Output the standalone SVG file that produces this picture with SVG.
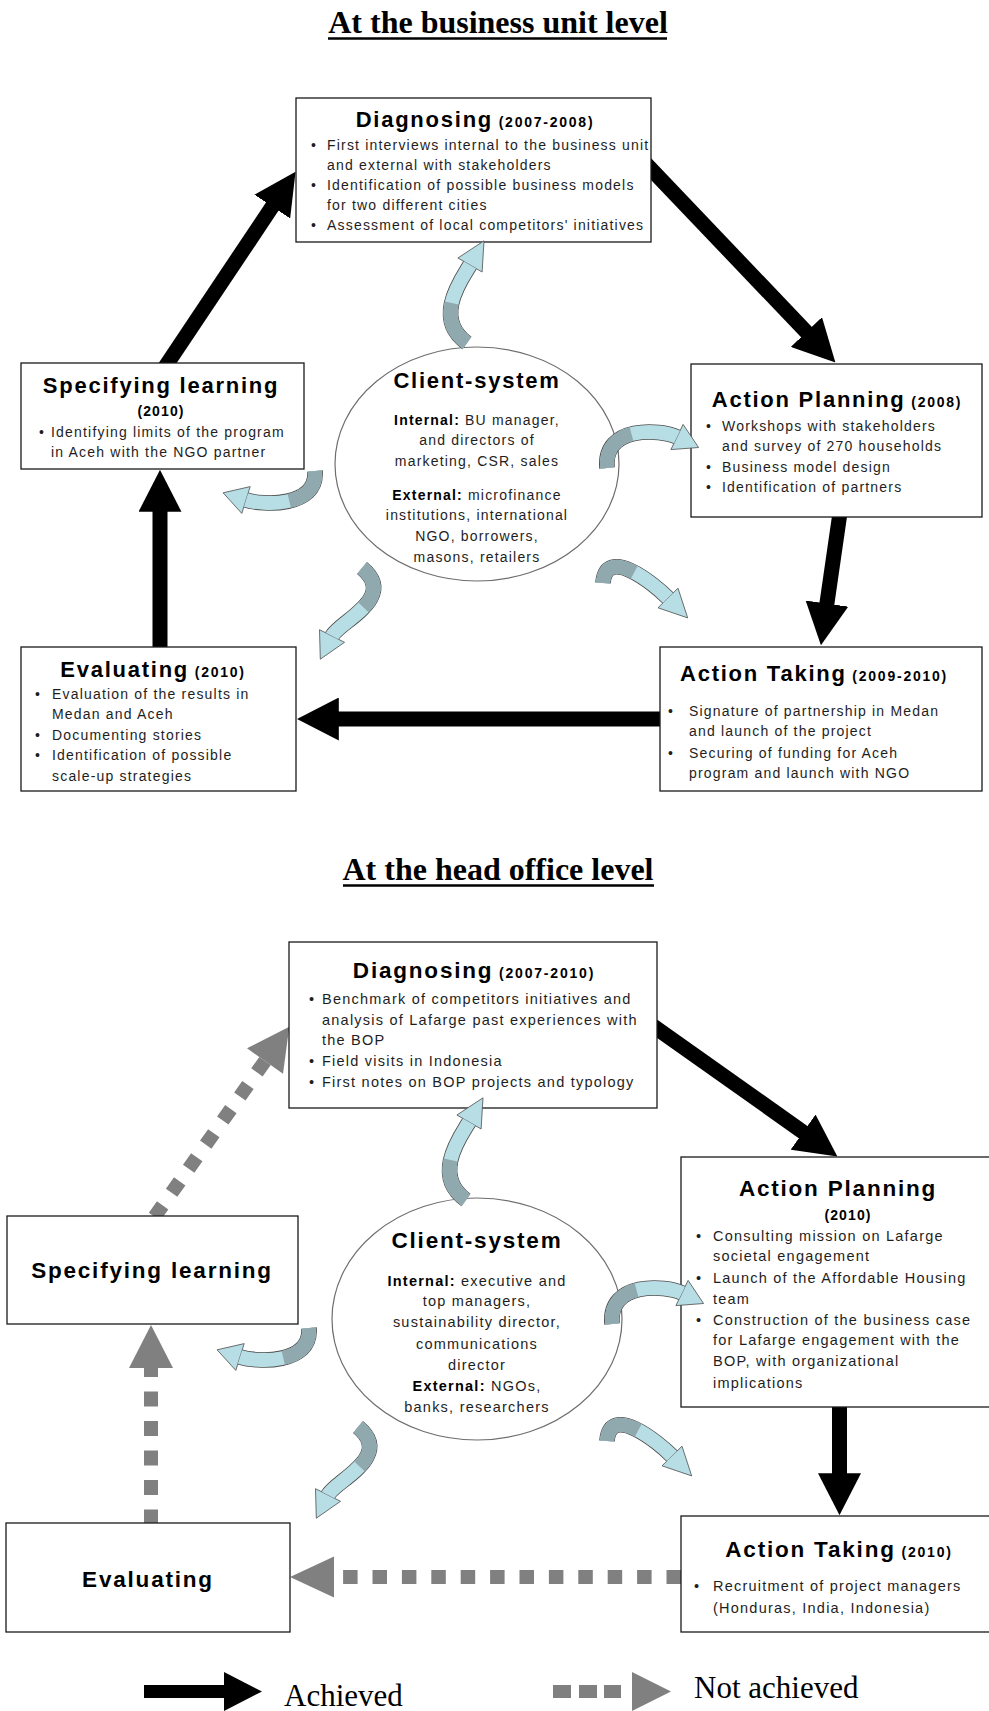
<svg xmlns="http://www.w3.org/2000/svg" width="989" height="1711" viewBox="0 0 989 1711">
<style>
.box{fill:#fff;stroke:#1a1a1a;stroke-width:1.3}
.ell{fill:#fff;stroke:#6e6e6e;stroke-width:1.2}
.t{font-family:"Liberation Sans",Arial,sans-serif;font-weight:bold;font-size:22px;letter-spacing:0.08em;fill:#000}
.t2{font-size:22.5px}
.y{font-size:14px;font-weight:bold}
.b{font-family:"Liberation Sans",Arial,sans-serif;font-size:14px;letter-spacing:0.085em;fill:#1e1e1e}
.b2{font-size:14.5px}
.bb{font-weight:bold;fill:#000}
.h{font-family:"Liberation Serif","Times New Roman",serif;font-weight:bold;font-size:32px;fill:#000}
.lg{font-family:"Liberation Serif","Times New Roman",serif;font-size:31px;fill:#000}
.ul{stroke:#000;stroke-width:2.5}
.blk{stroke:#000;stroke-width:15;fill:none}
.gry{stroke:#808080;stroke-width:14;fill:none}
.gh{fill:#808080}
.co{fill:none;stroke:#4d4d4d;stroke-width:15.6}
.cl{fill:none;stroke:#b7dde5;stroke-width:14}
.cd{fill:none;stroke:#8fa9ae;stroke-width:14}
.ch{fill:#b7dde5;stroke:#4d4d4d;stroke-width:0.8;stroke-linejoin:round}
</style>
<defs>
<marker id="ah" viewBox="0 0 10 10" refX="0.2" refY="5" markerUnits="userSpaceOnUse" markerWidth="42" markerHeight="43" orient="auto" preserveAspectRatio="none">
<path d="M0,0 L10,5 L0,10 z" fill="#000"/>
</marker>
<g id="caA">
<path class="co" d="M467,343 C432,318 462.5,278 470,265"/>
<polygon class="ch" points="484,240.8 482.1,272 457.9,258"/>
<path class="cl" d="M467,343 C432,318 462.5,278 470,265"/>
<path class="cd" d="M467,343 C432,318 462.5,278 470,265" pathLength="100" stroke-dasharray="52 100"/>
</g>
<g id="caB">
<path class="co" d="M607,468 C603,425 660.8,429.1 677,437"/>
<polygon class="ch" points="698.6,447.5 670.9,449.6 683.1,424.4"/>
<path class="cl" d="M607,468 C603,425 660.8,429.1 677,437"/>
<path class="cd" d="M607,468 C603,425 660.8,429.1 677,437" pathLength="100" stroke-dasharray="50 100"/>
</g>
<g id="caC">
<path class="co" d="M603,583 C606,545 654,583.8 668,598"/>
<polygon class="ch" points="687.7,617.9 658,607.8 678,588.2"/>
<path class="cl" d="M603,583 C606,545 654,583.8 668,598"/>
<path class="cd" d="M603,583 C606,545 654,583.8 668,598" pathLength="100" stroke-dasharray="50 100"/>
</g>
<g id="caD">
<path class="co" d="M362,568 C398,598 339.2,621.7 332,636"/>
<polygon class="ch" points="320.3,659.2 344.5,642.3 319.5,629.7"/>
<path class="cl" d="M362,568 C398,598 339.2,621.7 332,636"/>
<path class="cd" d="M362,568 C398,598 339.2,621.7 332,636" pathLength="100" stroke-dasharray="52 100"/>
</g>
<g id="caE">
<path class="co" d="M315,471 C318,508 262,505 246,500"/>
<polygon class="ch" points="223.1,492.8 250.2,486.6 241.8,513.4"/>
<path class="cl" d="M315,471 C318,508 262,505 246,500"/>
<path class="cd" d="M315,471 C318,508 262,505 246,500" pathLength="100" stroke-dasharray="50 100"/>
</g>
</defs>

<rect width="989" height="1711" fill="#fff"/>

<!-- Titles -->
<g id="title-top">
<text class="h" x="498" y="33" text-anchor="middle">At the business unit level</text>
<line class="ul" x1="328" y1="38.5" x2="667" y2="38.5"/>
</g>
<g id="title-bottom">
<text class="h" x="498" y="880" text-anchor="middle">At the head office level</text>
<line class="ul" x1="343" y1="885.5" x2="654" y2="885.5"/>
</g>

<!-- Connectors -->
<g id="connectors">
<line class="blk" x1="162.6" y1="370.7" x2="272.7" y2="205.9" marker-end="url(#ah)"/>
<line class="blk" x1="645" y1="162.8" x2="807" y2="332.6" marker-end="url(#ah)"/>
<line class="blk" x1="840.4" y1="510" x2="826.8" y2="604.4" marker-end="url(#ah)"/>
<line class="blk" x1="668" y1="719" x2="338" y2="719" marker-end="url(#ah)"/>
<line class="blk" x1="160" y1="655" x2="160" y2="511" marker-end="url(#ah)"/>

<line class="blk" x1="649.5" y1="1023.4" x2="803.8" y2="1132.6" marker-end="url(#ah)"/>
<line class="blk" x1="839.5" y1="1400" x2="839.5" y2="1474" marker-end="url(#ah)"/>

<path class="gry" d="M265,1061 L153,1219" stroke-dasharray="14 15.5"/>
<polygon class="gh" points="289.3,1026.7 283,1073.7 247,1048.3"/>
<path class="gry" d="M681,1577 L343,1577" stroke-dasharray="14.5 14.9"/>
<polygon class="gh" points="290,1577 334,1556.5 334,1597.5"/>
<path class="gry" d="M151,1368 L151,1524" stroke-dasharray="15 14.5" stroke-dashoffset="6"/>
<polygon class="gh" points="151,1325 129,1368 173,1368"/>
</g>

<!-- Top level nodes -->
<g id="bu-diagnosing">
<rect class="box" x="296" y="98" width="355" height="144"/>
<text class="t" x="475" y="127" text-anchor="middle">Diagnosing<tspan class="y"> (2007-2008)</tspan></text>
<g class="b">
<text x="311" y="150">•</text><text x="327" y="150">First interviews internal to the business unit</text>
<text x="327" y="170">and external with stakeholders</text>
<text x="311" y="190">•</text><text x="327" y="190">Identification of possible business models</text>
<text x="327" y="210">for two different cities</text>
<text x="311" y="230">•</text><text x="327" y="230">Assessment of local competitors' initiatives</text>
</g>
</g>

<g id="bu-action-planning">
<rect class="box" x="691" y="364" width="291" height="153"/>
<text class="t" x="837" y="407" text-anchor="middle">Action Planning<tspan class="y"> (2008)</tspan></text>
<g class="b">
<text x="706" y="431">•</text><text x="722" y="431">Workshops with stakeholders</text>
<text x="722" y="451">and survey of 270 households</text>
<text x="706" y="472">•</text><text x="722" y="472">Business model design</text>
<text x="706" y="492">•</text><text x="722" y="492">Identification of partners</text>
</g>
</g>

<g id="bu-action-taking">
<rect class="box" x="660" y="647" width="322" height="144"/>
<text class="t" x="814" y="681" text-anchor="middle">Action Taking<tspan class="y"> (2009-2010)</tspan></text>
<g class="b">
<text x="668" y="716">•</text><text x="689" y="716">Signature of partnership in Medan</text>
<text x="689" y="736">and launch of the project</text>
<text x="668" y="758">•</text><text x="689" y="758">Securing of funding for Aceh</text>
<text x="689" y="778">program and launch with NGO</text>
</g>
</g>

<g id="bu-evaluating">
<rect class="box" x="21" y="647" width="275" height="144"/>
<text class="t" x="153" y="677" text-anchor="middle">Evaluating<tspan class="y"> (2010)</tspan></text>
<g class="b">
<text x="35" y="699">•</text><text x="52" y="699">Evaluation of the results in</text>
<text x="52" y="719">Medan and Aceh</text>
<text x="35" y="740">•</text><text x="52" y="740">Documenting stories</text>
<text x="35" y="760">•</text><text x="52" y="760">Identification of possible</text>
<text x="52" y="781">scale-up strategies</text>
</g>
</g>

<g id="bu-specifying">
<rect class="box" x="21" y="363" width="283" height="106"/>
<text class="t" x="161" y="393" text-anchor="middle">Specifying learning</text>
<text class="t y" x="161" y="416" text-anchor="middle">(2010)</text>
<g class="b">
<text x="39" y="437">•</text><text x="51" y="437">Identifying limits of the program</text>
<text x="51" y="457">in Aceh with the NGO partner</text>
</g>
</g>

<g id="bu-client">
<ellipse class="ell" cx="477" cy="464" rx="142" ry="117"/>
<text class="t" x="477" y="388" text-anchor="middle">Client-system</text>
<g class="b" text-anchor="middle">
<text x="477" y="425"><tspan class="bb">Internal:</tspan> BU manager,</text>
<text x="477" y="445">and directors of</text>
<text x="477" y="466">marketing, CSR, sales</text>
<text x="477" y="500"><tspan class="bb">External:</tspan> microfinance</text>
<text x="477" y="520">institutions, international</text>
<text x="477" y="541">NGO, borrowers,</text>
<text x="477" y="562">masons, retailers</text>
</g>
</g>

<!-- Head office nodes -->
<g id="ho-diagnosing">
<rect class="box" x="289" y="942" width="368" height="166"/>
<text class="t t2" x="474" y="978" text-anchor="middle">Diagnosing<tspan class="y"> (2007-2010)</tspan></text>
<g class="b b2">
<text x="309" y="1004">•</text><text x="322" y="1004">Benchmark of competitors initiatives and</text>
<text x="322" y="1025">analysis of Lafarge past experiences with</text>
<text x="322" y="1045">the BOP</text>
<text x="309" y="1066">•</text><text x="322" y="1066">Field visits in Indonesia</text>
<text x="309" y="1087">•</text><text x="322" y="1087">First notes on BOP projects and typology</text>
</g>
</g>

<g id="ho-action-planning">
<rect class="box" x="681" y="1157" width="314" height="250"/>
<text class="t t2" x="838" y="1196" text-anchor="middle">Action Planning</text>
<text class="t y" x="848" y="1220" text-anchor="middle">(2010)</text>
<g class="b b2">
<text x="696" y="1241">•</text><text x="713" y="1241">Consulting mission on Lafarge</text>
<text x="713" y="1261">societal engagement</text>
<text x="696" y="1283">•</text><text x="713" y="1283">Launch of the Affordable Housing</text>
<text x="713" y="1304">team</text>
<text x="696" y="1325">•</text><text x="713" y="1325">Construction of the business case</text>
<text x="713" y="1345">for Lafarge engagement with the</text>
<text x="713" y="1366">BOP, with organizational</text>
<text x="713" y="1388">implications</text>
</g>
</g>

<g id="ho-action-taking">
<rect class="box" x="681" y="1516" width="314" height="116"/>
<text class="t t2" x="839" y="1557" text-anchor="middle">Action Taking<tspan class="y"> (2010)</tspan></text>
<g class="b b2">
<text x="694" y="1591">•</text><text x="713" y="1591">Recruitment of project managers</text>
<text x="713" y="1613">(Honduras, India, Indonesia)</text>
</g>
</g>

<g id="ho-evaluating">
<rect class="box" x="6" y="1523" width="284" height="109"/>
<text class="t t2" x="148" y="1587" text-anchor="middle">Evaluating</text>
</g>

<g id="ho-specifying">
<rect class="box" x="7" y="1216" width="291" height="108"/>
<text class="t t2" x="152" y="1278" text-anchor="middle">Specifying learning</text>
</g>

<g id="ho-client">
<ellipse class="ell" cx="477" cy="1319" rx="145" ry="121"/>
<text class="t t2" x="477" y="1248" text-anchor="middle">Client-system</text>
<g class="b b2" text-anchor="middle">
<text x="477" y="1286"><tspan class="bb">Internal:</tspan> executive and</text>
<text x="477" y="1306">top managers,</text>
<text x="477" y="1327">sustainability director,</text>
<text x="477" y="1349">communications</text>
<text x="477" y="1370">director</text>
<text x="477" y="1391"><tspan class="bb">External:</tspan> NGOs,</text>
<text x="477" y="1412">banks, researchers</text>
</g>
</g>

<!-- Curved client-system arrows -->
<g id="client-arrows">
<use href="#caA"/>
<use href="#caB"/>
<use href="#caC"/>
<use href="#caD"/>
<use href="#caE"/>
<use href="#caA" transform="translate(-1,857)"/>
<use href="#caB" transform="translate(5,856)"/>
<use href="#caC" transform="translate(4,858)"/>
<use href="#caD" transform="translate(-4,859)"/>
<use href="#caE" transform="translate(-6,857)"/>
</g>

<!-- Legend -->
<g id="legend">
<polygon points="144,1685 224,1685 224,1672 262,1691.5 224,1711 224,1698 144,1698" fill="#000"/>
<text class="lg" x="284" y="1706">Achieved</text>
<rect x="553" y="1685" width="18" height="13" fill="#808080"/>
<rect x="579" y="1685" width="18" height="13" fill="#808080"/>
<rect x="604" y="1685" width="17" height="13" fill="#808080"/>
<polygon points="632,1672 671,1691.5 632,1711" fill="#808080"/>
<text class="lg" x="694" y="1698">Not achieved</text>
</g>
</svg>
